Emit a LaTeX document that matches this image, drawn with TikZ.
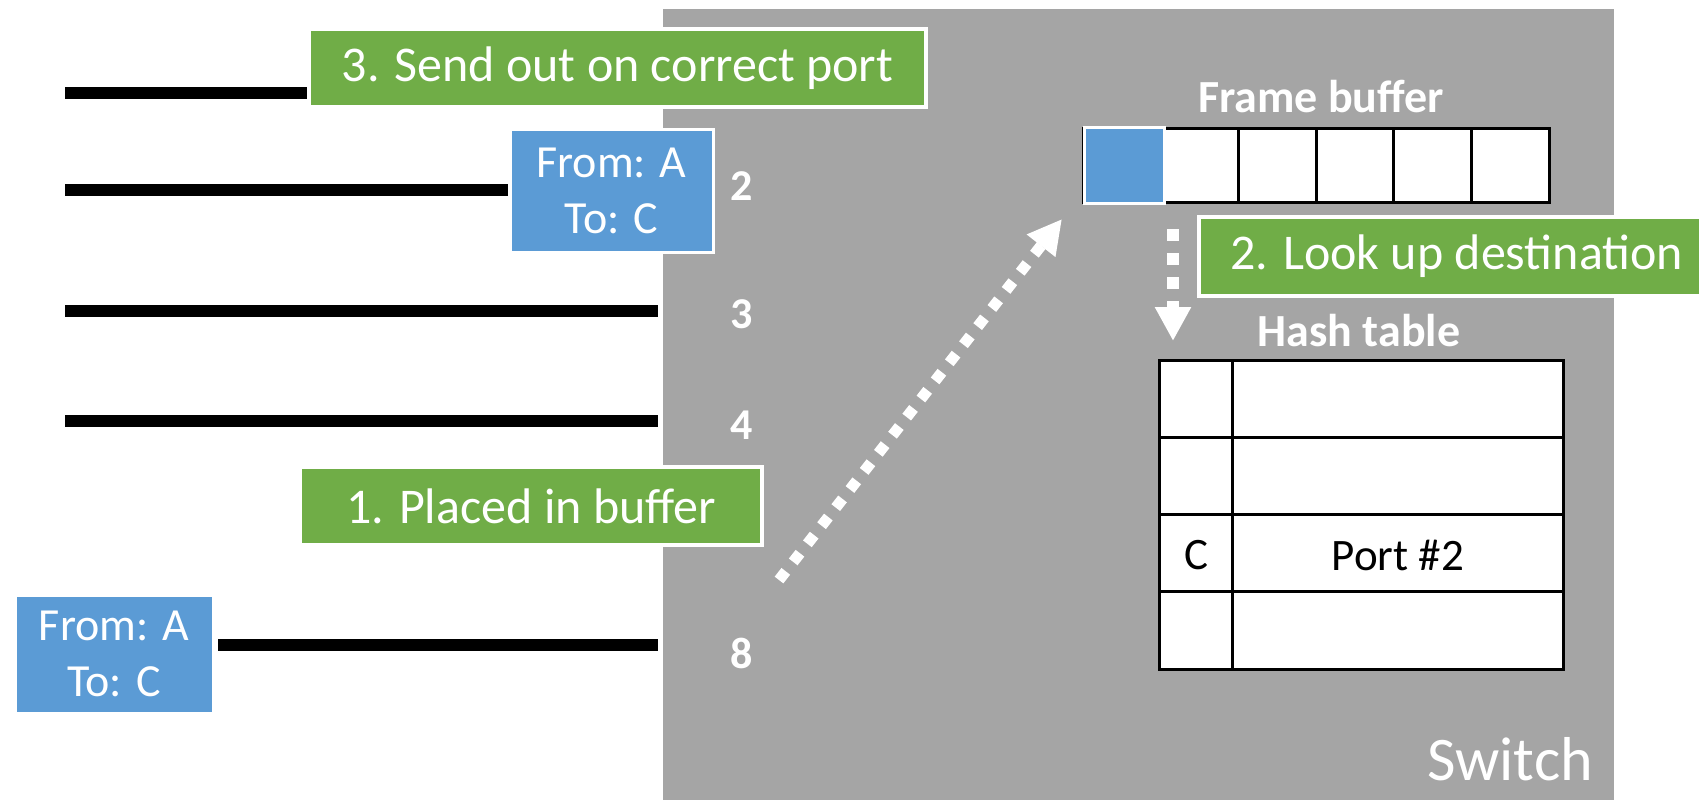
\documentclass[tikz,border=0pt]{standalone}
\usepackage{fontspec}
\setmainfont{Carlito}
\usetikzlibrary{arrows.meta}
\definecolor{swgray}{HTML}{A5A5A5}
\definecolor{stepgreen}{HTML}{70AD47}
\definecolor{frameblue}{HTML}{5B9BD5}
\begin{document}
\begin{tikzpicture}[x=1pt,y=-1pt,
  wire/.style={line width=12pt, black},
  stepbox/.style={rectangle, fill=stepgreen, draw=white, line width=3.5pt, text=white,
    font=\fontsize{50}{60}\selectfont, inner sep=0pt, outer sep=0pt, minimum height=78pt},
  steptext/.style={text=white, font=\fontsize{50}{60}\selectfont, inner sep=0pt},
  msgbox/.style={rectangle, fill=frameblue, draw=white, line width=3pt, text=white,
    font=\fontsize{46}{56}\selectfont, align=center, inner sep=0pt, outer sep=0pt},
  portlbl/.style={text=white, font=\bfseries\fontsize{44}{50}\selectfont, inner sep=0pt},
  boldlbl/.style={text=white, font=\bfseries\fontsize{46}{52}\selectfont, inner sep=0pt},
  cell/.style={rectangle, draw=black, line width=3pt, fill=white, inner sep=0pt, outer sep=0pt},
  celltext/.style={text=black, font=\fontsize{45}{52}\selectfont, inner sep=0pt},
  flow/.style={white, line width=11pt, dash pattern=on 11pt off 12pt,
    -{Triangle[length=34pt,width=34pt]}},
]
\useasboundingbox (0,0) rectangle (1699,800);
\clip (0,0) rectangle (1699,800);
\fill[white] (0,0) rectangle (1699,800);

% switch body
\node[rectangle, fill=swgray, inner sep=0pt, outer sep=0pt, minimum width=951pt,
  minimum height=800pt, anchor=north west] (switch) at (663,9) {};

% port labels
\node[portlbl] (p2) at (742,186) {2};
\node[portlbl] (p3) at (742,314) {3};
\node[portlbl] (p4) at (742,425) {4};
\node[portlbl] (p8) at (742,653) {8};

% step boxes and frames
\node[stepbox, minimum width=617pt] (g3) at (617.5,68) {3. Send out on correct port};
\node[stepbox, minimum width=462pt] (g1) at (531,506) {1. Placed in buffer};
\node[stepbox, anchor=west, minimum width=560pt, minimum height=79pt] (g2) at (1199,256.5) {};
\node[steptext, anchor=west] (g2t) at ([xshift=31pt]g2.west) {2. Look up destination};
\node[msgbox, minimum width=203pt, minimum height=123pt] (m2) at (611.5,190.5) {From: A\\To: C};
\node[msgbox, minimum width=198pt, minimum height=118pt] (m8) at (114,654) {From: A\\To: C};

% wires
\coordinate (w1) at (65,93);
\coordinate (w2) at (65,190);
\coordinate (w3) at (65,311);
\coordinate (w4) at (65,421);
\draw[wire, shorten >=2pt] (w1) -- (w1 -| g3.west);
\draw[wire, shorten >=2pt] (w2) -- (w2 -| m2.west);
\draw[wire, shorten >=5pt] (w3) -- (w3 -| switch.west);
\draw[wire, shorten >=5pt] (w4) -- (w4 -| switch.west);
\draw[wire, shorten <=5pt, shorten >=5pt] (m8.east |- 0,645) -- (switch.west |- 0,645);

% frame buffer
\node[boldlbl] (fblabel) at (1321,97) {Frame buffer};
\foreach \i in {0,...,5}
  \node[cell, minimum width=77.67pt, minimum height=74pt, anchor=north west]
    (fb\i) at ({1083+77.67*\i},128) {};
\node[rectangle, fill=frameblue, draw=white, line width=3.5pt, inner sep=0pt,
  minimum width=80pt, minimum height=76pt] (fbfull) at (1124.5,165.5) {};

% hash table
\node[boldlbl] (htlabel) at (1359,331) {Hash table};
\foreach \r in {0,...,3} {
  \node[cell, minimum width=73pt, minimum height=77.25pt, anchor=north west]
    (hk\r) at (1159,{360+77.25*\r}) {};
  \node[cell, minimum width=331pt, minimum height=77.25pt, anchor=north west]
    (hv\r) at (1232,{360+77.25*\r}) {};
}
\node[celltext] (ckey) at (1196,555) {C};
\node[celltext] (cval) at (1398,555) {Port \#2};

% flows
\coordinate (src) at (779,580);
\coordinate (dst) at (1062,219);
\draw[flow] (src) -- (dst);
\coordinate (dn1) at (1173,229);
\coordinate (dn2) at (1173,341);
\draw[flow, line width=12pt, dash pattern=on 12pt off 12pt] (dn1) -- (dn2);

% switch label
\node[text=white, font=\fontsize{62}{70}\selectfont, inner sep=0pt, anchor=base east]
  (swlabel) at (1593,780) {Switch};
\end{tikzpicture}
\end{document}
